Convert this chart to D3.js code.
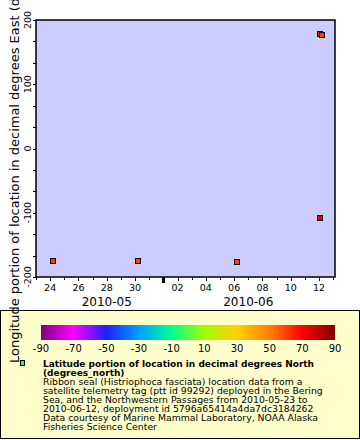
<!DOCTYPE html>
<html><head><meta charset="utf-8">
<script src="https://cdn.jsdelivr.net/npm/d3@7"></script>
<style>body{margin:0;background:#fff}svg{display:block;font-family:"DejaVu Sans",sans-serif}</style>
</head><body><svg id="c" width="360" height="440"></svg>
<script>
const times = ["2010-05-24T04:00Z","2010-05-30T04:30Z","2010-06-06T04:00Z","2010-06-12T02:00Z","2010-06-12T02:00Z","2010-06-12T05:30Z"];
const longitudes = [-174.6,-174.6,-176.1,-107.8,178.1,176.7];
const latitudes = [60.5,60.5,60.0,74.0,62.0,60.5];
const yTicks = [-200,-100,0,100,200];
const colorbarTicks = [-90,-70,-50,-30,-10,10,30,50,70,90];
const paletteStops = [-90,-70,-50,-30,-10,10,30,50,70,90];
const paletteColors = ["#800080","#ff00ff","#2020ff","#00a0ff","#00ff90","#a0ff00","#ffd000","#ff8000","#ff0000","#800000"];
const monthLabels = [["2010-05-28T00:00Z","2010-05"],["2010-06-07T00:00Z","2010-06"]];
const legendTitle = ["Latitude portion of location in decimal degrees North","(degrees_north)"];
const legendLines = ["Ribbon seal (Histriophoca fasciata) location data from a","satellite telemetry tag (ptt id 99292) deployed in the Bering","Sea, and the Northwestern Passages from 2010-05-23 to","2010-06-12, deployment id 5796a65414a4da7dc3184262","Data courtesy of Marine Mammal Laboratory, NOAA Alaska","Fisheries Science Center"];
const yTitle = "Longitude portion of location in decimal degrees East (degrees_east)";

const svg = d3.select("#c");
const L=36,R=335,T=20,B=277;
const x = d3.scaleUtc().domain([new Date("2010-05-23T00:00Z"), new Date("2010-06-13T03:00Z")]).range([L,R]);
const y = d3.scaleLinear().domain([-200,200]).range([B,T]);
const color = d3.scaleLinear().domain(paletteStops).range(paletteColors).clamp(true);

svg.append("rect").attr("x",L).attr("y",T).attr("width",R-L).attr("height",B-T).attr("fill","#ccccff");

const days = d3.utcDay.range(new Date("2010-05-23T00:00Z"), new Date("2010-06-13T04:00Z"));
const g = svg.append("g");
days.forEach(d=>{
  const xp = Math.round(x(d))+0.5;
  const isMonth = d.getUTCDate()===1;
  const labeled = d.getUTCDate()%2===0;
  if(isMonth){
    g.append("rect").attr("x",xp-1.5).attr("y",B).attr("width",3).attr("height",6).attr("fill","#000");
  } else {
    g.append("line").attr("x1",xp).attr("x2",xp).attr("y1",B).attr("y2",B+(labeled?4:3)).attr("stroke","#000");
  }
  if(labeled){
    g.append("text").attr("x",x(d)).attr("y",B+14).attr("text-anchor","middle").attr("font-size",9.5).text(d3.utcFormat("%d")(d));
  }
});
monthLabels.forEach(m=>{
  g.append("text").attr("x",x(new Date(m[0]))).attr("y",306).attr("text-anchor","middle").attr("font-size",12).text(m[1]);
});
const minor = d3.range(-200,200.01,100/3);
minor.forEach(v=>{
  const yp=Math.round(y(v))+0.5;
  g.append("line").attr("x1",L).attr("x2",L-3).attr("y1",yp).attr("y2",yp).attr("stroke","#000");
});
yTicks.forEach(v=>{
  g.append("text").attr("transform",`translate(31,${y(v)}) rotate(-90)`).attr("text-anchor","middle").attr("font-size",9.5).text(v);
});

svg.append("rect").attr("x",L).attr("y",T).attr("width",R-L).attr("height",B-T).attr("fill","none").attr("stroke","#000").attr("stroke-width",1.5);

times.forEach((t,i)=>{
  const cx=x(new Date(t)), cy=y(longitudes[i]);
  svg.append("rect").attr("x",Math.round(cx)-2.5).attr("y",Math.round(cy)-2.5).attr("width",5).attr("height",5)
    .attr("fill",color(latitudes[i])).attr("stroke","#000").attr("stroke-width",1);
});

svg.append("rect").attr("x",0.5).attr("y",310.5).attr("width",359).attr("height",128).attr("fill","#ffffcc").attr("stroke","#000");
svg.append("text").attr("transform",`translate(18.5,363) rotate(-90)`).attr("font-size",13).text(yTitle);
const defs=svg.append("defs");
const grad=defs.append("linearGradient").attr("id","pal");
paletteStops.forEach((s,i)=>grad.append("stop").attr("offset",((s+90)/180*100)+"%").attr("stop-color",paletteColors[i]));
const cb = d3.scaleLinear().domain([-90,90]).range([41,335]);
svg.append("rect").attr("x",41).attr("y",325).attr("width",294).attr("height",15).attr("fill","url(#pal)");
colorbarTicks.forEach(v=>{
  svg.append("text").attr("x",cb(v)).attr("y",352).attr("text-anchor","middle").attr("font-size",10).text(v);
});
svg.append("rect").attr("x",20.5).attr("y",360.5).attr("width",4).attr("height",5).attr("fill","#33ff33").attr("stroke","#000");
legendTitle.forEach((s,i)=>svg.append("text").attr("x",43).attr("y",367+i*9).attr("font-size",9).attr("font-weight","bold").text(s));
legendLines.forEach((s,i)=>svg.append("text").attr("x",43).attr("y",385+i*9).attr("font-size",9.3).text(s));
</script></body></html>
